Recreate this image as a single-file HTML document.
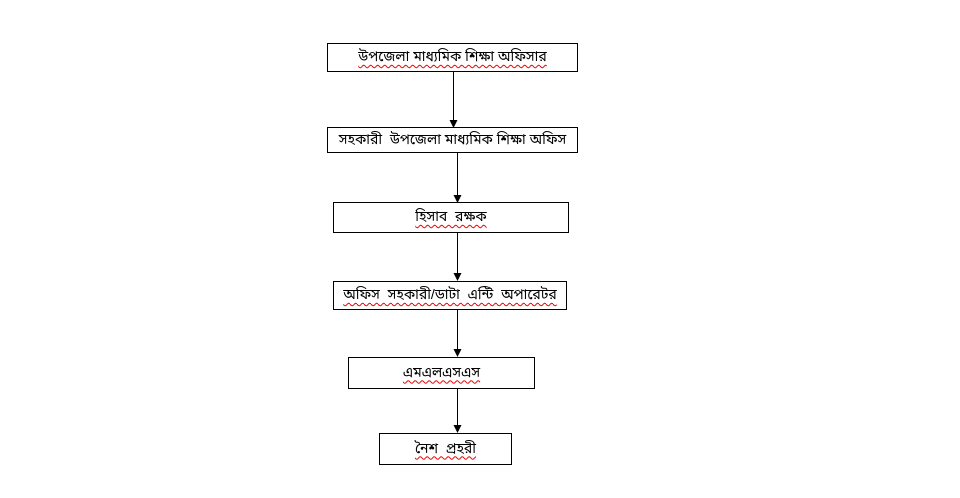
<!DOCTYPE html>
<html><head><meta charset="utf-8"><style>
body{margin:0;width:960px;height:498px;background:#fff;position:relative;overflow:hidden;font-family:"Liberation Sans","Noto Sans Bengali","Lohit Bengali",sans-serif}
.b{position:absolute;border:1px solid #000;box-sizing:border-box;display:flex;align-items:center;justify-content:center;font-size:14px;color:#000;white-space:nowrap;background:#fff}
.b span{text-decoration:underline wavy #e00;text-decoration-thickness:1px;text-underline-offset:3px}
svg{position:absolute;left:0;top:0}
</style></head><body>
<svg width="960" height="498">
<defs><marker id="a" markerWidth="8" markerHeight="8" refX="7" refY="4" orient="auto" markerUnits="userSpaceOnUse"><path d="M0,0 L8,4 L0,8z" fill="#000"/></marker></defs>
<g stroke="#000" stroke-width="1">
<line x1="453.5" y1="71" x2="453.5" y2="127" marker-end="url(#a)"/>
<line x1="457.5" y1="152" x2="457.5" y2="202" marker-end="url(#a)"/>
<line x1="457.5" y1="233" x2="457.5" y2="280" marker-end="url(#a)"/>
<line x1="457.5" y1="309" x2="457.5" y2="356" marker-end="url(#a)"/>
<line x1="457.5" y1="389" x2="457.5" y2="432" marker-end="url(#a)"/>
</g></svg>
<div class="b" style="left:327px;top:43px;width:251px;height:29px"><span>উপজেলা মাধ্যমিক শিক্ষা অফিসার</span></div>
<div class="b" style="left:327px;top:127px;width:251px;height:26px">সহকারী &nbsp;উপজেলা মাধ্যমিক শিক্ষা অফিস</div>
<div class="b" style="left:333px;top:202px;width:236px;height:31px"><span>হিসাব &nbsp;রক্ষক</span></div>
<div class="b" style="left:333px;top:281px;width:234px;height:29px"><span>অফিস &nbsp;সহকারী/ডাটা &nbsp;এন্টি &nbsp;অপারেটর</span></div>
<div class="b" style="left:348px;top:357px;width:187px;height:32px"><span>এমএলএসএস</span></div>
<div class="b" style="left:379px;top:433px;width:133px;height:32px"><span>নৈশ &nbsp;প্রহরী</span></div>
</body></html>
